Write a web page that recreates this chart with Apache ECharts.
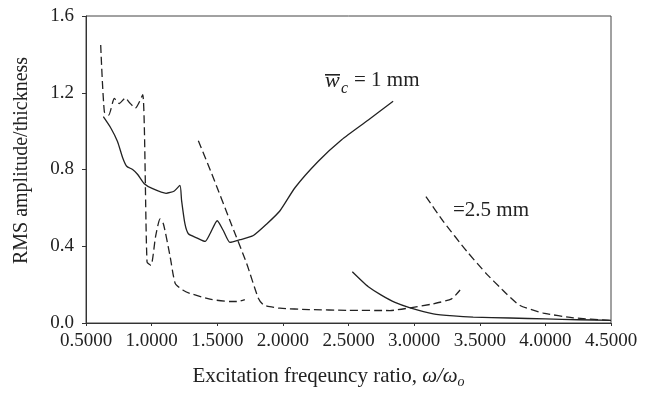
<!DOCTYPE html>
<html>
<head>
<meta charset="utf-8">
<script src="https://cdn.jsdelivr.net/npm/echarts@6/dist/echarts.min.js"></script>
<style>
  html, body { margin: 0; padding: 0; background: #fff; }
  #chart { width: 648px; height: 394px; }
</style>
</head>
<body>
<div id="chart"></div>
<script>
// tick labels
var xTicks = [0.5, 1.0, 1.5, 2.0, 2.5, 3.0, 3.5, 4.0, 4.5];
var yTicks = [0.0, 0.4, 0.8, 1.2, 1.6];

// w_c = 1 mm (solid), two branches
var solid1 = [
    [0.632, 1.075], [0.69, 1.015], [0.74, 0.946], [0.78, 0.86], [0.81, 0.817],
    [0.855, 0.80], [0.894, 0.774], [0.944, 0.726], [1.008, 0.70], [1.11, 0.676],
    [1.173, 0.688], [1.216, 0.717], [1.228, 0.64], [1.254, 0.516], [1.28, 0.465],
    [1.343, 0.444], [1.407, 0.425], [1.445, 0.465], [1.50, 0.533], [1.546, 0.482],
    [1.597, 0.42], [1.673, 0.434], [1.775, 0.456], [1.877, 0.516], [1.978, 0.585],
    [2.092, 0.705], [2.27, 0.843], [2.448, 0.955], [2.651, 1.058], [2.84, 1.156]
];
var solid2 = [
    [2.529, 0.267], [2.6, 0.22], [2.651, 0.189], [2.75, 0.145], [2.854, 0.107],
    [2.97, 0.079], [3.146, 0.048], [3.3, 0.037], [3.45, 0.031], [3.73, 0.026],
    [4.0, 0.021], [4.25, 0.017], [4.5, 0.014]
];

// w_c = 2.5 mm (dashed), three branches
var dashed1 = [
    [0.612, 1.449], [0.64, 1.10], [0.673, 1.084], [0.716, 1.17], [0.754, 1.144],
    [0.80, 1.173], [0.83, 1.149], [0.876, 1.12], [0.932, 1.19], [0.965, 0.318],
    [0.995, 0.30], [1.03, 0.45], [1.064, 0.542], [1.09, 0.516], [1.14, 0.35],
    [1.18, 0.206], [1.237, 0.172], [1.29, 0.155], [1.445, 0.124], [1.597, 0.112],
    [1.66, 0.112], [1.71, 0.122]
];
var dashed2 = [
    [1.356, 0.95], [1.47, 0.757], [1.597, 0.533], [1.724, 0.31], [1.813, 0.129],
    [1.851, 0.095], [1.9, 0.085], [1.978, 0.077], [2.2, 0.07], [2.5, 0.066],
    [2.816, 0.065], [2.969, 0.079], [3.146, 0.10], [3.286, 0.126], [3.35, 0.172]
];
var dashed3 = [
    [3.09, 0.659], [3.222, 0.53], [3.40, 0.375], [3.553, 0.255], [3.667, 0.177],
    [3.705, 0.151], [3.807, 0.091], [3.984, 0.052], [4.213, 0.027], [4.49, 0.014]
];

var serif = '"Liberation Serif", "DejaVu Serif", serif';
var ink = '#222';

var myChart = echarts.init(document.getElementById('chart'));

function lineSeries(data, dashed) {
    return {
        type: 'line',
        data: data,
        showSymbol: false,
        smooth: 0.2,
        silent: true,
        lineStyle: {
            color: ink,
            width: 1.3,
            type: dashed ? [8, 4] : 'solid'
        }
    };
}

var option = {
    backgroundColor: '#fff',
    animation: false,
    grid: {
        left: 86,
        right: 37,
        top: 16,
        bottom: 68,
        show: true,
        borderColor: '#444',
        borderWidth: 1
    },
    xAxis: {
        type: 'value',
        min: xTicks[0],
        max: xTicks[xTicks.length - 1],
        interval: 0.5,
        name: '{n|Excitation freqeuncy ratio, }{i|ω/ω}{s|o}',
        nameLocation: 'middle',
        nameGap: 40,
        nameTextStyle: {
            fontFamily: serif, fontSize: 21, color: ink,
            padding: [0, 40, 0, 0],
            rich: {
                n: { fontFamily: serif, fontSize: 21, color: ink, lineHeight: 26 },
                i: { fontFamily: serif, fontSize: 21, fontStyle: 'italic', color: ink, lineHeight: 26 },
                s: { fontFamily: serif, fontSize: 14, fontStyle: 'italic', color: ink,
                     lineHeight: 26, padding: [12, 0, 0, 0] }
            }
        },
        axisLine: { lineStyle: { color: '#333', width: 1 } },
        axisTick: { show: true, length: 3, inside: false, lineStyle: { color: '#333' } },
        splitLine: { show: false },
        axisLabel: {
            margin: 9,
            fontFamily: serif,
            fontSize: 19,
            color: ink,
            formatter: function (v) { return v.toFixed(4); }
        }
    },
    yAxis: {
        type: 'value',
        min: yTicks[0],
        max: yTicks[yTicks.length - 1],
        interval: 0.4,
        name: 'RMS amplitude/thickness',
        nameLocation: 'middle',
        nameGap: 54,
        nameTextStyle: { fontFamily: serif, fontSize: 20, color: ink, padding: [0, 0, 0, 18] },
        axisLine: { show: true, lineStyle: { color: '#333', width: 1 } },
        axisTick: { show: true, length: 4, lineStyle: { color: '#333' } },
        splitLine: { show: false },
        axisLabel: {
            margin: 12,
            fontFamily: serif,
            fontSize: 19,
            color: ink,
            formatter: function (v) { return v.toFixed(1); }
        }
    },
    graphic: [
        // label for the 1 mm curve
        { type: 'text', left: 325, top: 70,
          style: { text: 'w', fontFamily: serif, fontSize: 22, fontStyle: 'italic', fill: ink } },
        { type: 'rect', shape: { x: 325, y: 74, width: 15, height: 1.6 }, style: { fill: ink } },
        { type: 'text', left: 341, top: 81,
          style: { text: 'c', fontFamily: serif, fontSize: 16, fontStyle: 'italic', fill: ink } },
        { type: 'text', left: 354, top: 70,
          style: { text: '= 1 mm', fontFamily: serif, fontSize: 21, fill: ink } },
        // label for the 2.5 mm curve
        { type: 'text', left: 453, top: 200,
          style: { text: '=2.5 mm', fontFamily: serif, fontSize: 21, fill: ink } }
    ],
    series: [
        lineSeries(solid1, false),
        lineSeries(solid2, false),
        lineSeries(dashed1, true),
        lineSeries(dashed2, true),
        lineSeries(dashed3, true)
    ]
};
myChart.setOption(option);
</script>
</body>
</html>
